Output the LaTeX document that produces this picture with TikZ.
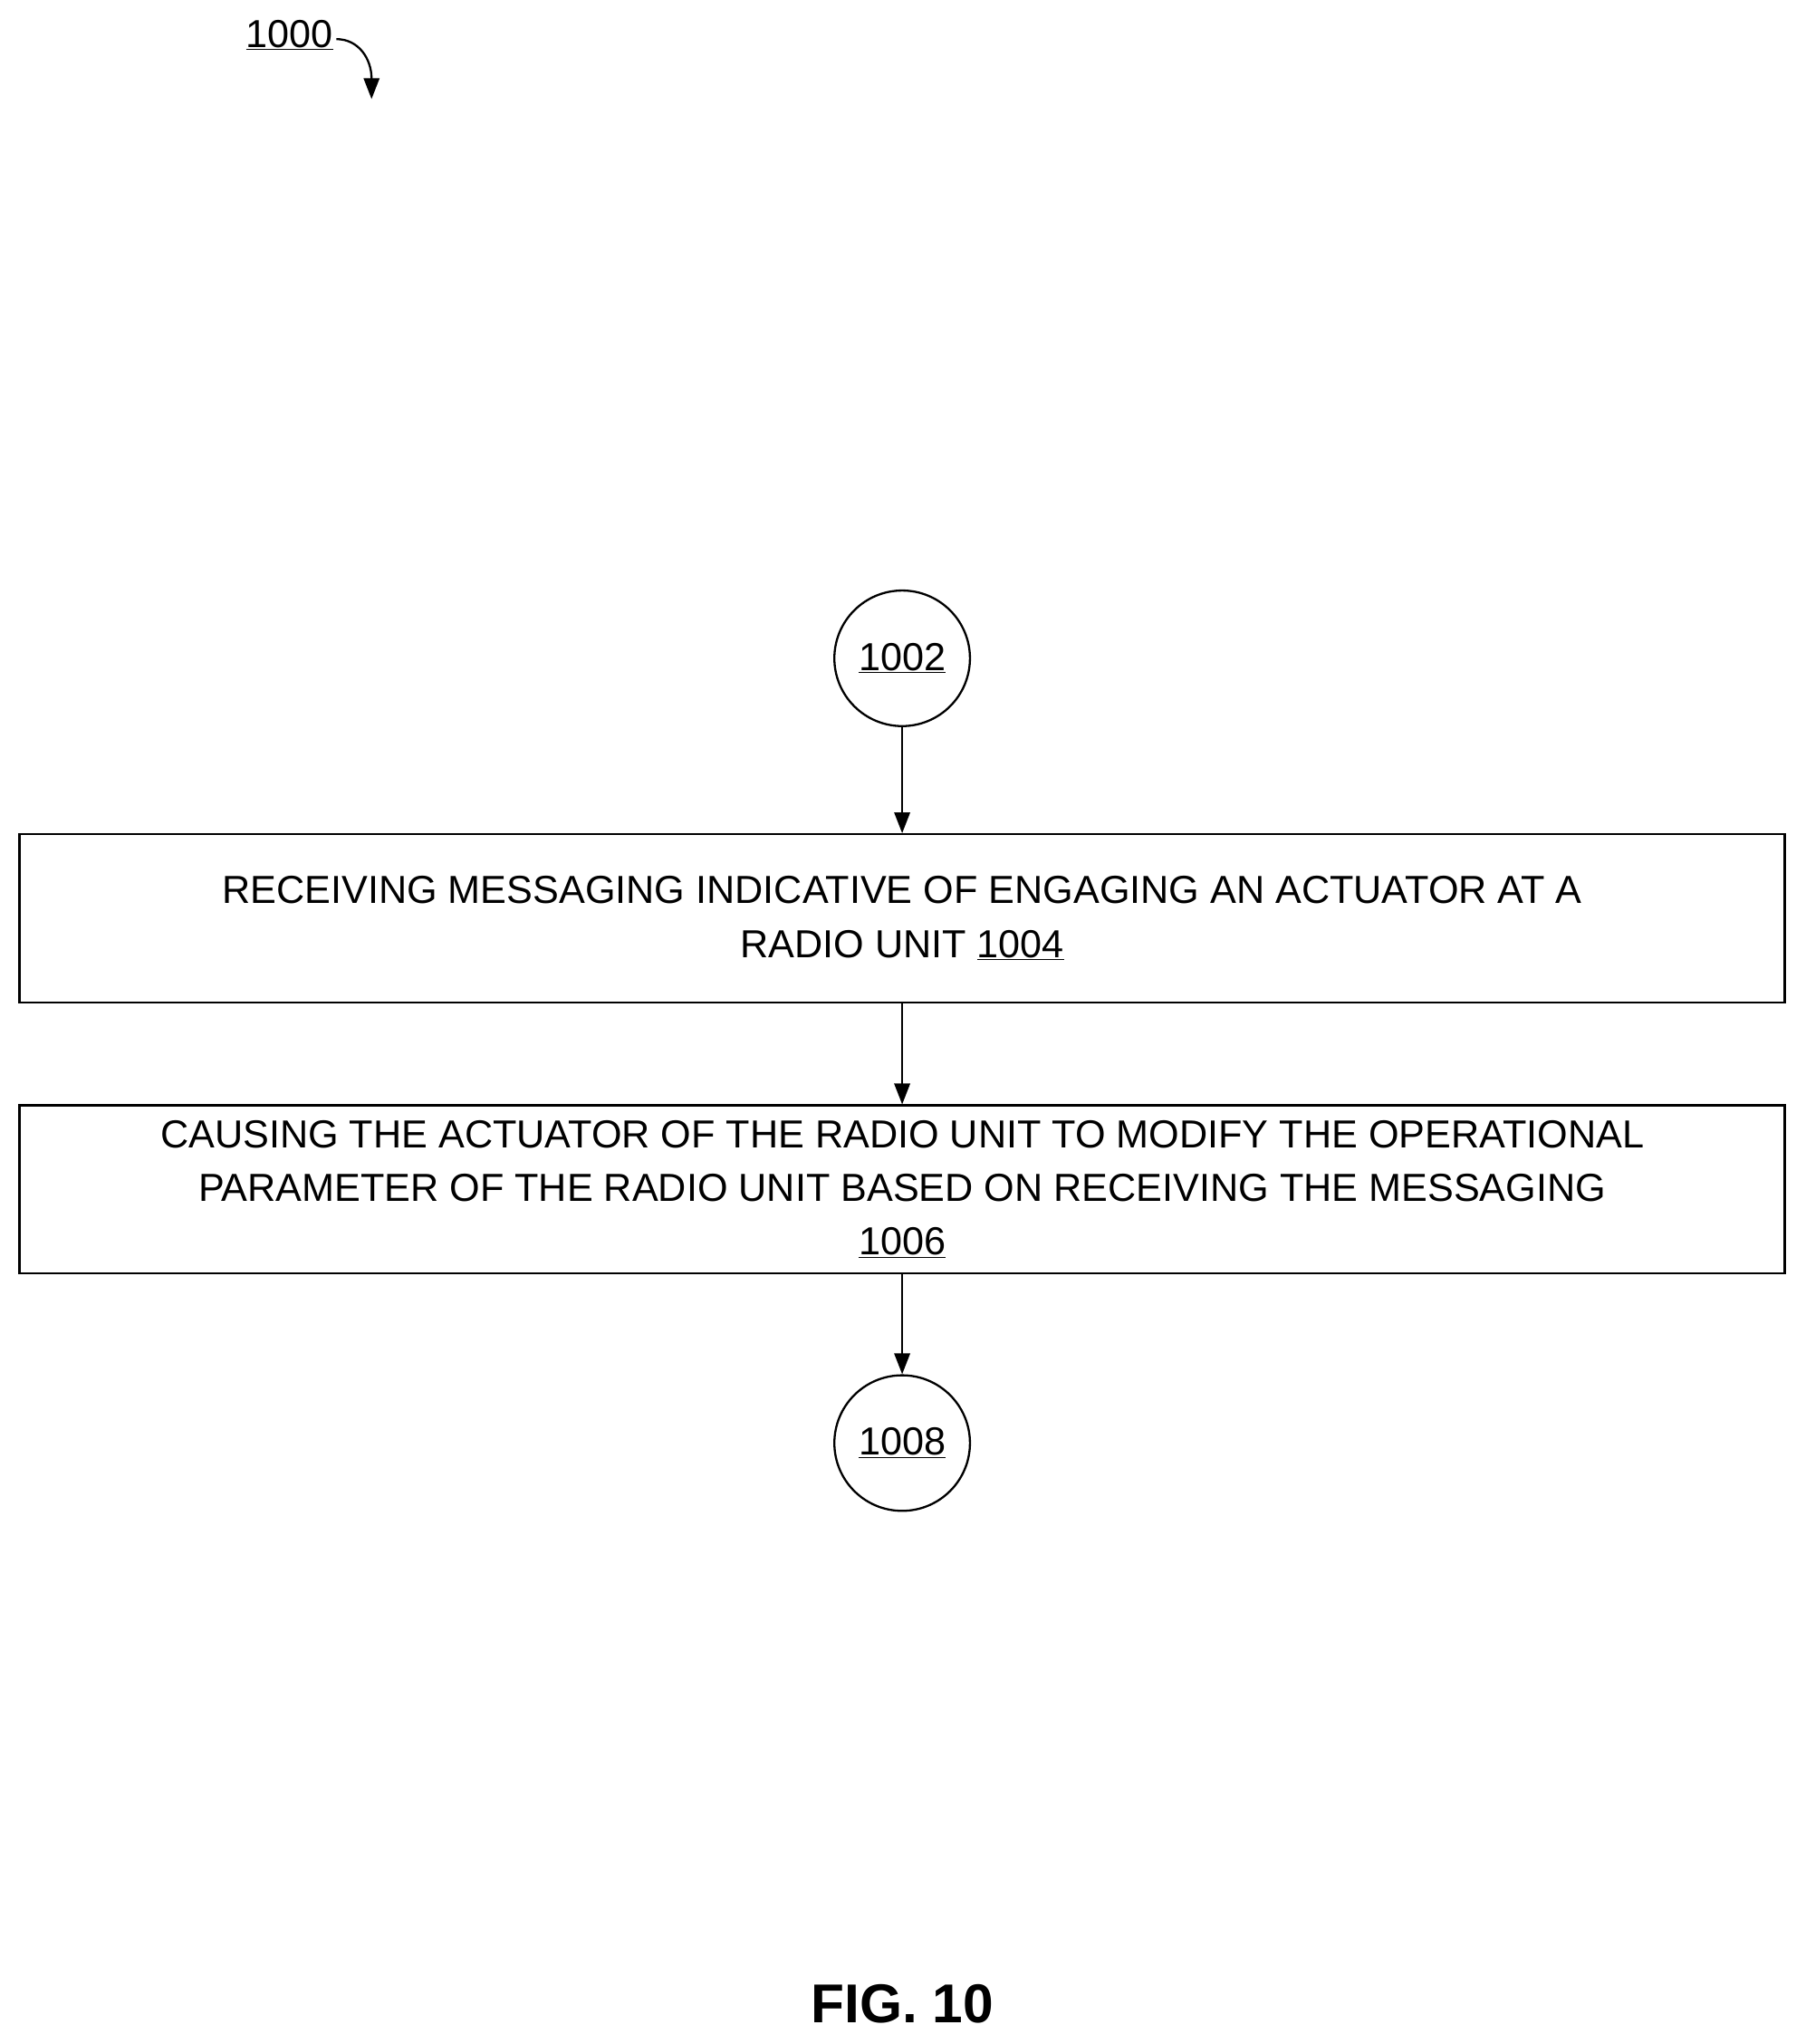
\documentclass[tikz,border=0pt]{standalone}
\usepackage{fontspec}
\setmainfont{Liberation Sans}
\usetikzlibrary{arrows.meta}
\begin{document}
\begin{tikzpicture}[x=1pt,y=-1pt,
  box/.style={draw,line width=1.6pt,minimum width=1354pt,minimum height=129pt,align=center,inner sep=0pt,font=\fontsize{30}{41}\selectfont},
  circ/.style={draw,circle,line width=1.6pt,minimum size=104pt,inner sep=0pt,font=\fontsize{30}{36}\selectfont},
  arr/.style={line width=1.6pt,-{Triangle[length=16pt,width=12pt]}}]
\useasboundingbox (0,0) rectangle (1385,1568);
\node[font=\fontsize{30}{36}\selectfont] (lbl) at (222,27) {\underline{1000}};
\coordinate (lt) at (285,76);
\draw[arr] (258,30) .. controls (275,30) and (285,45) .. (lt);
\node[circ] (c1) at (692,505) {\underline{1002}};
\node[box] (b1) at (692,704.5) {RECEIVING MESSAGING INDICATIVE OF ENGAGING AN ACTUATOR AT A\\RADIO UNIT \underline{1004}};
\node[box] (b2) at (692,912.5) {CAUSING THE ACTUATOR OF THE RADIO UNIT TO MODIFY THE OPERATIONAL\\PARAMETER OF THE RADIO UNIT BASED ON RECEIVING THE MESSAGING\\\underline{1006}};
\node[circ] (c2) at (692,1107) {\underline{1008}};
\draw[arr] (c1) -- (b1);
\draw[arr] (b1) -- (b2);
\draw[arr] (b2) -- (c2);
\node[font=\fontsize{42}{50}\selectfont\bfseries] (fig) at (692,1537) {FIG. 10};
\end{tikzpicture}
\end{document}
